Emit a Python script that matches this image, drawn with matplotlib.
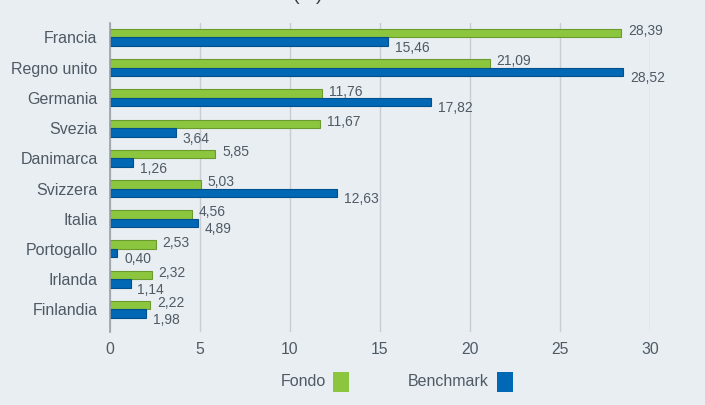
import matplotlib
matplotlib.use("Agg")
import matplotlib.pyplot as plt
from matplotlib.patches import Rectangle
import numpy as np

# dati
paesi = ["Francia", "Regno unito", "Germania", "Svezia", "Danimarca",
         "Svizzera", "Italia", "Portogallo", "Irlanda", "Finlandia"]
fondo = [28.39, 21.09, 11.76, 11.67, 5.85, 5.03, 4.56, 2.53, 2.32, 2.22]
benchmark = [15.46, 28.52, 17.82, 3.64, 1.26, 12.63, 4.89, 0.40, 1.14, 1.98]
x_ticks = [0, 5, 10, 15, 20, 25, 30]

bg = "#e9eef2"
verde = "#8cc63f"
blu = "#0068b4"
testo = "#4f5a64"

plt.rcParams['font.family'] = ['Liberation Sans', 'DejaVu Sans']

fig = plt.figure(figsize=(7.05, 4.05), dpi=100, facecolor=bg)
ax = fig.add_axes([110 / 705, 1 - 332 / 405, 540 / 705, 309 / 405])
ax.set_facecolor(bg)

y = np.arange(len(paesi))
h = 0.28
ax.barh(y - h / 2, fondo, height=h, color=verde, edgecolor="#6b9b2c", linewidth=0.8, zorder=3)
ax.barh(y + h / 2, benchmark, height=h, color=blu, edgecolor="#00508c", linewidth=0.8, zorder=3)

for i in range(len(paesi)):
    ax.annotate(f"{fondo[i]:.2f}".replace(".", ","), (fondo[i], y[i] - h / 2),
                xytext=(5, 1.5), textcoords="offset points", va="center", ha="left",
                fontsize=10, color=testo)
    ax.annotate(f"{benchmark[i]:.2f}".replace(".", ","), (benchmark[i], y[i] + h / 2),
                xytext=(5, -4.5), textcoords="offset points", va="center", ha="left",
                fontsize=10, color=testo)

ax.set_xlim(0, 30)
ax.set_ylim(9.75, -0.48)
ax.set_xticks(x_ticks)
ax.set_xticklabels([str(t) for t in x_ticks], fontsize=11.3, color=testo)
ax.set_yticks(y)
ax.set_yticklabels(paesi, fontsize=11.5, color=testo)
ax.tick_params(axis="both", length=0)
ax.tick_params(axis="x", pad=7)
ax.tick_params(axis="y", pad=9)
ax.grid(axis="x", color="#c9cdd1", linewidth=1, zorder=0)
for s in ["top", "right", "bottom"]:
    ax.spines[s].set_visible(False)
ax.spines["left"].set_color("#9aa0a6")
ax.spines["left"].set_linewidth(1.2)
ax.spines["left"].set_zorder(4)

# titolo tagliato in alto (come nell'originale)
fig.text(308 / 705, 1.0, "(%)", ha="center", va="baseline", fontsize=14, color="#3a3f44")

# legenda manuale
W, H = 705, 405
fig.text(326 / W, 1 - 382 / H, "Fondo", ha="right", va="center", fontsize=11.5, color=testo)
fig.patches.append(Rectangle((333 / W, 1 - 392 / H), 16 / W, 20 / H, transform=fig.transFigure,
                             facecolor=verde, edgecolor="none"))
fig.text(489 / W, 1 - 382 / H, "Benchmark", ha="right", va="center", fontsize=11.5, color=testo)
fig.patches.append(Rectangle((497 / W, 1 - 392 / H), 16 / W, 20 / H, transform=fig.transFigure,
                             facecolor=blu, edgecolor="none"))

fig.savefig("out.png", dpi=100, facecolor=bg)
